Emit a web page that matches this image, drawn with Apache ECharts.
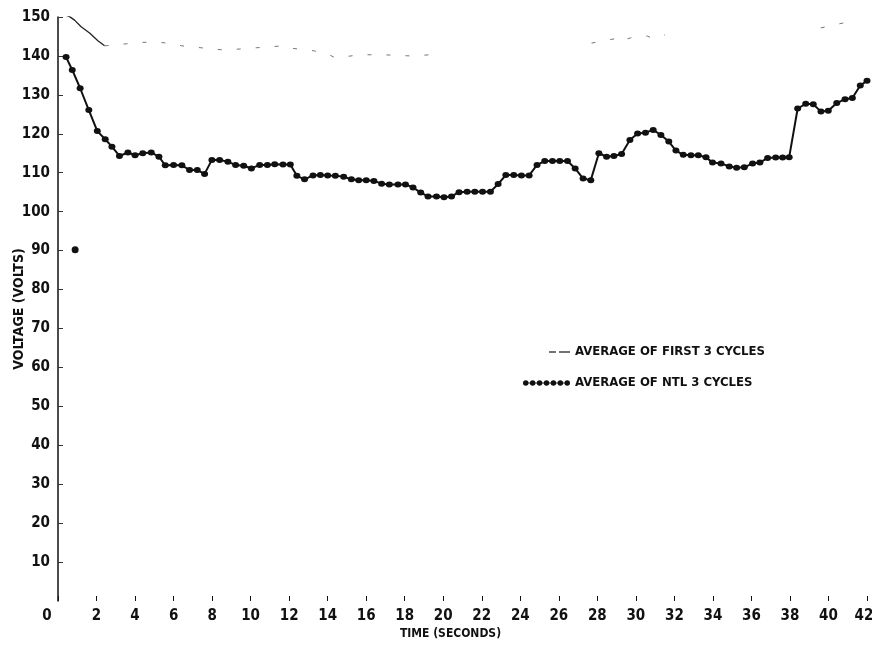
<!DOCTYPE html>
<html>
<head>
<meta charset="utf-8">
<title>Voltage vs Time</title>
<script src="https://cdn.jsdelivr.net/npm/echarts@6/dist/echarts.min.js"></script>
<style>
  html, body { margin: 0; padding: 0; background: #fff; }
  #chart { width: 872px; height: 652px; }
</style>
</head>
<body>
<div id="chart"></div>
<script>
// Time axis ticks (seconds) and voltage ticks
var timeTicks = [0, 2, 4, 6, 8, 10, 12, 14, 16, 18, 20, 22, 24, 26, 28, 30, 32, 34, 36, 38, 40, 42];
var voltTicks = [10, 20, 30, 40, 50, 60, 70, 80, 90, 100, 110, 120, 130, 140, 150];

// Average of the last ("NTL") 3 cycles
var ntlTime = [0.42, 0.74, 1.15, 1.6, 2.04, 2.45, 2.8, 3.19, 3.63, 4.0, 4.4, 4.84, 5.24, 5.57, 6.0, 6.43, 6.83, 7.23, 7.61, 7.99,
  8.39, 8.82, 9.22, 9.64, 10.04, 10.47, 10.87, 11.25, 11.68, 12.06, 12.4, 12.8, 13.24, 13.62, 14.0, 14.4, 14.83, 15.23, 15.61, 16.0,
  16.4, 16.8, 17.2, 17.65, 18.04, 18.43, 18.83, 19.21, 19.65, 20.04, 20.43, 20.82, 21.24, 21.64, 22.04, 22.45, 22.85, 23.25, 23.66, 24.06,
  24.46, 24.87, 25.27, 25.67, 26.05, 26.45, 26.85, 27.26, 27.66, 28.08, 28.48, 28.86, 29.26, 29.69, 30.09, 30.5, 30.9, 31.3, 31.71, 32.08,
  32.46, 32.86, 33.24, 33.64, 33.98, 34.42, 34.85, 35.23, 35.63, 36.06, 36.44, 36.84, 37.26, 37.62, 37.96, 38.4, 38.82, 39.21, 39.61, 39.99,
  40.43, 40.86, 41.24, 41.65, 42.0];
var ntlVolts = [139.7, 136.4, 131.7, 126.1, 120.7, 118.6, 116.7, 114.3, 115.2, 114.5, 115.0, 115.2, 114.1, 111.9, 112.0, 111.9, 110.7, 110.7, 109.7, 113.3,
  113.3, 112.8, 112.0, 111.8, 111.1, 112.0, 112.0, 112.2, 112.1, 112.1, 109.2, 108.3, 109.3, 109.4, 109.3, 109.2, 109.0, 108.3, 108.1, 108.1,
  107.9, 107.2, 107.0, 107.0, 107.0, 106.2, 104.9, 103.9, 103.9, 103.7, 103.9, 105.0, 105.1, 105.1, 105.1, 105.1, 107.1, 109.4, 109.4, 109.3,
  109.3, 112.0, 113.0, 113.0, 113.0, 113.0, 111.1, 108.5, 108.1, 115.0, 114.1, 114.3, 114.8, 118.4, 120.1, 120.3, 121.0, 119.7, 118.0, 115.7,
  114.6, 114.5, 114.5, 114.0, 112.6, 112.4, 111.6, 111.3, 111.4, 112.4, 112.6, 113.8, 113.9, 113.9, 114.0, 126.5, 127.7, 127.6, 125.7, 125.9,
  127.9, 128.9, 129.2, 132.4, 133.6];

// Isolated reading near the start
var strayTime = [0.89];
var strayVolts = [90.2];

// Average of the first 3 cycles: opening solid stretch
var firstHeadTime = [0.43, 0.6, 0.86, 1.2, 1.64, 2.07, 2.42];
var firstHeadVolts = [150.4, 150.1, 149.2, 147.5, 145.9, 143.9, 142.6];

// Average of the first 3 cycles: remainder ('-' marks a break in the trace)
var firstTailTime = [2.42, 4.4, 5.1, 6.1, 6.4, 8.65, 11.7, 11.9, 13.3, 14.0, 14.4, 15.7, 16.5, 16.9, 18.3, 19.7,
  23.5,
  27.7, 28.9, 29.1, 29.4, 29.7, 30.1, 30.6, 30.9, 31.5,
  35.5,
  39.6, 40.8];
var firstTailVolts = [142.6, 143.5, 143.5, 143.2, 142.6, 141.5, 142.6, 142.1, 141.3, 140.5, 139.5, 140.3, 140.3, 140.3, 140.0, 140.4,
  '-',
  143.3, 144.4, 143.6, 144.1, 144.6, 145.0, 145.1, 144.4, 145.4,
  '-',
  147.2, 148.5];

var FIRST_NAME = 'AVERAGE OF FIRST 3 CYCLES';
var NTL_NAME = 'AVERAGE OF NTL 3 CYCLES';

function zip(xs, ys) {
  return xs.map(function (x, i) { return [x, ys[i]]; });
}

var FONT = "'Liberation Sans Narrow', 'DejaVu Sans Condensed', 'Roboto', sans-serif";
var INK = '#111';

// Legend glyphs: a short pair of dashes, and a row of beads on a thread
var dashIcon = 'path://M0,2.9 L0,3.1 L0.01,3.1 Z M26,2.3 L33,2.3 L33,3.7 L26,3.7 Z M36,2.3 L47,2.3 L47,3.7 L36,3.7 Z';
var beadIcon = (function () {
  var p = '';
  var r = 2.9;
  for (var i = 0; i < 7; i++) {
    var cx = 3 + i * 7.3;
    p += 'M' + (cx - r) + ',3 a' + r + ',' + r + ' 0 1,0 ' + (2 * r) + ',0 a' + r + ',' + r + ' 0 1,0 ' + (-2 * r) + ',0 Z ';
    if (i < 6) {
      var x0 = cx + r, x1 = cx + 7.3 - r;
      p += 'M' + x0 + ',2.5 L' + x1 + ',2.5 L' + x1 + ',3.5 L' + x0 + ',3.5 Z ';
    }
  }
  return 'path://' + p;
})();

var chart = echarts.init(document.getElementById('chart'), null, { renderer: 'canvas' });

chart.setOption({
  animation: false,
  backgroundColor: '#fff',
  grid: { left: 58, right: 5, top: 17, bottom: 51, containLabel: false, outerBoundsMode: 'none' },
  legend: {
    orient: 'vertical',
    left: 518,
    top: 338,
    itemWidth: 47,
    itemHeight: 6,
    itemGap: 13,
    selectedMode: false,
    textStyle: { fontFamily: FONT, fontWeight: 'bold', fontSize: 13, color: INK, lineHeight: 18 },
    data: [
      { name: FIRST_NAME, icon: dashIcon, itemStyle: { color: '#444' } },
      { name: NTL_NAME, icon: beadIcon, itemStyle: { color: INK } }
    ]
  },
  xAxis: {
    type: 'value',
    min: timeTicks[0],
    max: timeTicks[timeTicks.length - 1],
    interval: 2,
    name: 'TIME (SECONDS)',
    nameLocation: 'middle',
    nameGap: 27,
    nameMoveOverlap: false,
    nameTextStyle: { fontFamily: FONT, fontWeight: 'bold', fontSize: 12, color: INK, padding: [0, 24, 0, 0] },
    axisLine: { show: false },
    axisTick: { show: true, inside: true, length: 5, lineStyle: { color: INK, width: 1 } },
    splitLine: { show: false },
    axisLabel: {
      margin: 8,
      fontFamily: FONT,
      fontWeight: 'bold',
      fontSize: 15,
      color: INK,
      formatter: function (v) {
        if (v === 0) return '{z|0}';
        if (v === timeTicks[timeTicks.length - 1]) return '{e|' + v + '}';
        return String(v);
      },
      rich: {
        z: { fontFamily: FONT, fontWeight: 'bold', fontSize: 15, color: INK, padding: [0, 22, 0, 0] },
        e: { fontFamily: FONT, fontWeight: 'bold', fontSize: 15, color: INK, padding: [0, 6, 0, 0] }
      }
    }
  },
  yAxis: {
    type: 'value',
    min: 0,
    max: voltTicks[voltTicks.length - 1],
    interval: 10,
    name: 'VOLTAGE (VOLTS)',
    nameLocation: 'middle',
    nameRotate: 90,
    nameGap: 32,
    nameMoveOverlap: false,
    nameTextStyle: { fontFamily: FONT, fontWeight: 'bold', fontSize: 14, color: INK },
    axisLine: { show: true, lineStyle: { color: INK, width: 1.5 } },
    axisTick: { show: true, inside: true, length: 5, lineStyle: { color: '#333', width: 1 } },
    splitLine: { show: false },
    axisLabel: {
      margin: 8,
      showMinLabel: false,
      fontFamily: FONT,
      fontWeight: 'bold',
      fontSize: 15,
      color: INK
    }
  },
  series: [
    {
      name: FIRST_NAME,
      type: 'line',
      data: zip(firstHeadTime, firstHeadVolts),
      showSymbol: false,
      symbol: 'none',
      lineStyle: { color: '#222', width: 1.3 },
      itemStyle: { color: '#444' },
      z: 2
    },
    {
      name: FIRST_NAME,
      type: 'line',
      data: zip(firstTailTime, firstTailVolts),
      connectNulls: false,
      showSymbol: false,
      symbol: 'none',
      lineStyle: { color: '#777', width: 1, type: [4, 15] },
      itemStyle: { color: '#444' },
      z: 2
    },
    {
      name: NTL_NAME,
      type: 'line',
      data: zip(ntlTime, ntlVolts),
      symbol: 'circle',
      symbolSize: [7, 6],
      showAllSymbol: true,
      clip: false,
      lineStyle: { color: INK, width: 2 },
      itemStyle: { color: INK },
      z: 3
    },
    {
      name: NTL_NAME,
      type: 'scatter',
      data: zip(strayTime, strayVolts),
      symbol: 'circle',
      symbolSize: 7,
      itemStyle: { color: INK, opacity: 1 },
      z: 3
    }
  ]
});
</script>
</body>
</html>
